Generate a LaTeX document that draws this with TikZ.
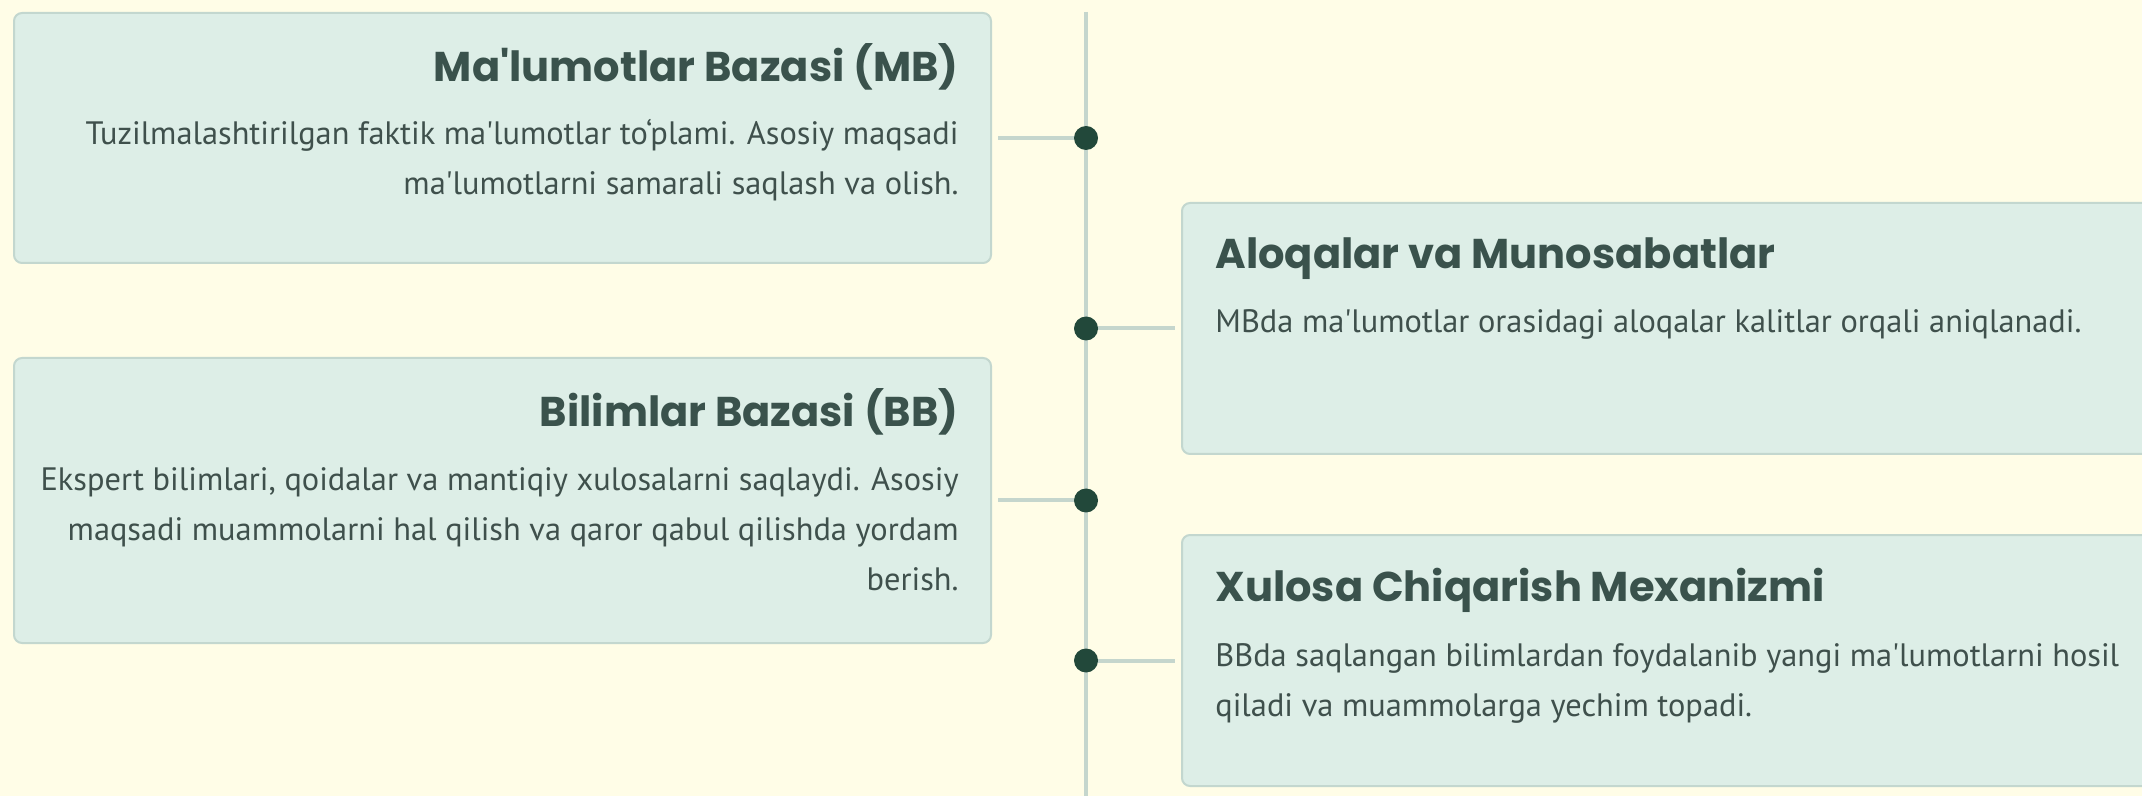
\documentclass[tikz,border=0pt]{standalone}
\usepackage{fontspec}
\newfontfamily\headfont{Poppins}
\newfontfamily\bodyfont{PT Sans}
\usepackage{xcolor}
\usetikzlibrary{
  positioning,
  calc
}
\definecolor{bgcream}{HTML}{FFFDE7}
\definecolor{cardfill}{HTML}{DDEEE7}
\definecolor{carddraw}{HTML}{C3D7CF}
\definecolor{spine}{HTML}{C5D6CD}
\definecolor{pingreen}{HTML}{22483A}
\definecolor{headtext}{HTML}{3A524C}
\definecolor{bodytext}{HTML}{3F504C}

\begin{document}
\begin{tikzpicture}[
  x=0.5pt, y=-0.5pt,
  card/.style={draw=carddraw, line width=1pt, fill=cardfill, rounded corners=4pt, minimum width=488.5pt, inner sep=0pt, anchor=north west},
  head/.style={font=\headfont\bfseries\fontsize{20.8}{24}\selectfont, text=headtext, inner sep=0pt},
  body/.style={font=\bodyfont\fontsize{16.2}{25}\selectfont, text=bodytext, inner sep=0pt},
  stub/.style={draw=spine, line width=2pt},
  pin/.style={circle, fill=pingreen, minimum size=12pt, inner sep=0pt}
]
  \clip (0,0) rectangle (2142,796);
  \fill[bgcream] (0,0) rectangle (2142,796);

  % spine
  \coordinate (top) at (1086,12);
  \coordinate (bot) at (1086,796);
  \draw[stub] (top) -- (bot);

  % cards
  \node[card, minimum height=125pt] (mb) at (13,12) {};
  \node[card, minimum height=125.5pt] (al) at (1181,202) {};
  \node[card, minimum height=142.5pt] (bb) at (13,357) {};
  \node[card, minimum height=125.5pt] (xc) at (1181,534) {};

  % left side texts (base = last line)
  \node[head, anchor=base east] (mbHead) at ($(mb.north east)+(-33,70)$) {Ma'lumotlar Bazasi (MB)};
  \node[body, align=right, anchor=base east] (mbText) at ($(mb.north east)+(-33,183)$)
    {Tuzilmalashtirilgan faktik ma'lumotlar to‘plami. Asosiy maqsadi\\ma'lumotlarni samarali saqlash va olish.};
  \node[head, anchor=base east] (bbHead) at ($(bb.north east)+(-33,70)$) {Bilimlar Bazasi (BB)};
  \node[body, align=right, anchor=base east] (bbText) at ($(bb.north east)+(-33,233)$)
    {Ekspert bilimlari, qoidalar va mantiqiy xulosalarni saqlaydi. Asosiy\\maqsadi muammolarni hal qilish va qaror qabul qilishda yordam\\berish.};

  % right side texts
  \node[head, anchor=base west] (alHead) at ($(al.north west)+(34,67)$) {Aloqalar va Munosabatlar};
  \node[body, align=left, anchor=base west] (alText) at ($(al.north west)+(34,131)$)
    {MBda ma'lumotlar orasidagi aloqalar kalitlar orqali aniqlanadi.};
  \node[head, anchor=base west] (xcHead) at ($(xc.north west)+(34,67)$) {Xulosa Chiqarish Mexanizmi};
  \node[body, align=left, anchor=base west] (xcText) at ($(xc.north west)+(34,182)$)
    {BBda saqlangan bilimlardan foydalanib yangi ma'lumotlarni hosil\\qiladi va muammolarga yechim topadi.};

  % stubs to the spine
  \draw[stub, shorten <=3pt] (mb.east) -- (mb.east -| top);
  \draw[stub, shorten >=3pt] (al.west -| top) -- (al.west);
  \draw[stub, shorten <=3pt] (bb.east) -- (bb.east -| top);
  \draw[stub, shorten >=3pt] (xc.west -| top) -- (xc.west);

  % pins on the spine
  \node[pin] (mbPin) at (mb.east -| top) {};
  \node[pin] (alPin) at (al.west -| top) {};
  \node[pin] (bbPin) at (bb.east -| top) {};
  \node[pin] (xcPin) at (xc.west -| top) {};

\end{tikzpicture}
\end{document}
